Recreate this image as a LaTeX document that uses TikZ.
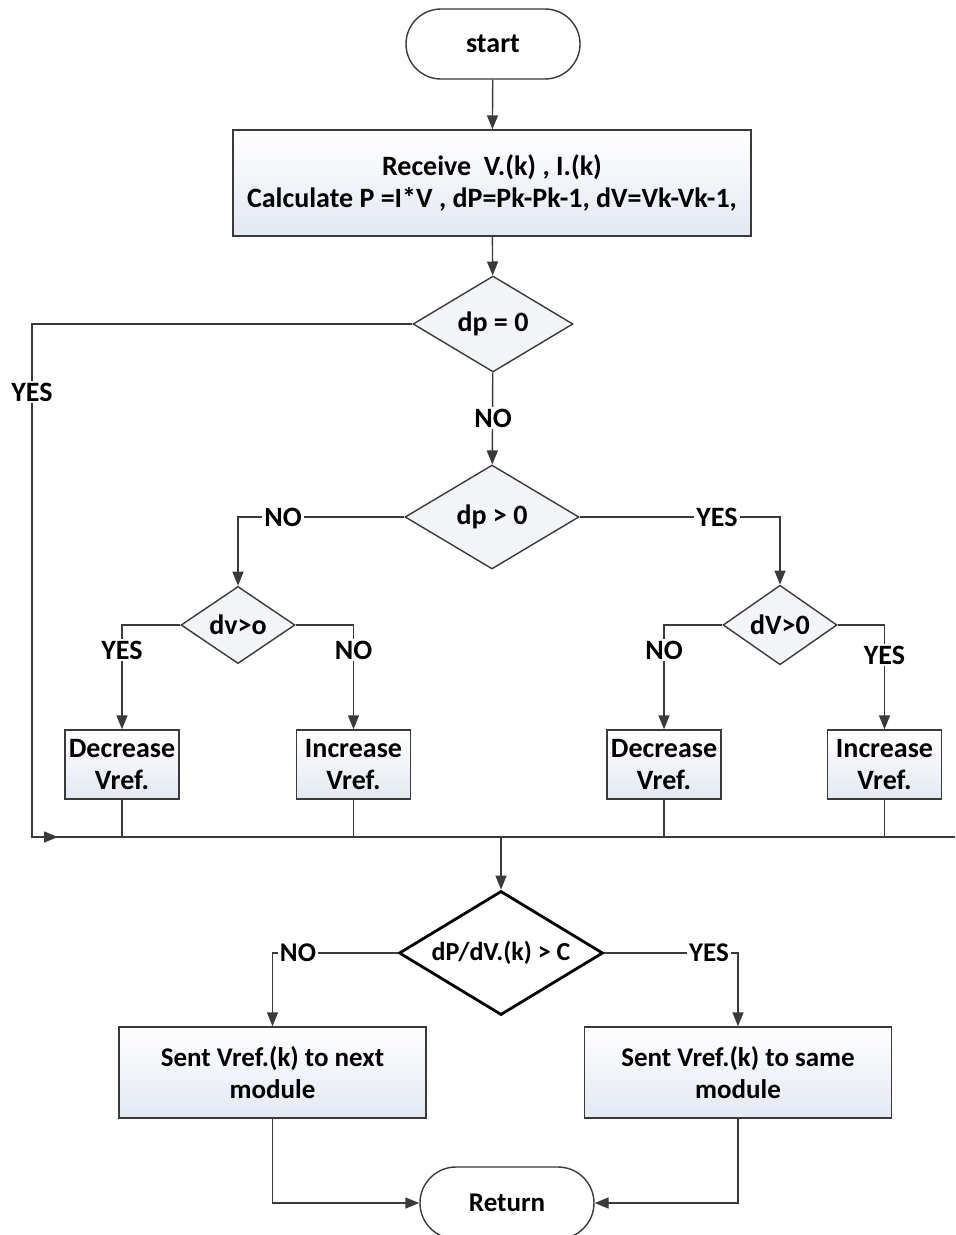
\documentclass[tikz,border=0pt]{standalone}
\usepackage{fontspec}
\setmainfont{Carlito}
\usetikzlibrary{shapes.geometric,shapes.misc,arrows.meta,positioning}
\definecolor{boxblue}{HTML}{E3E8F1}
\definecolor{diafill}{HTML}{F3F4F7}
\definecolor{linegray}{HTML}{3A3A3A}
\tikzset{
	line/.style={draw=linegray, line width=0.7pt},
	arr/.style={line, -{Triangle[length=7pt,width=5.5pt]}},
	term/.style={rounded rectangle, draw=linegray, line width=0.7pt, fill=white, minimum width=87pt, inner sep=0pt},
	proc/.style={rectangle, draw=linegray, line width=0.7pt, top color=white, bottom color=boxblue, align=center, inner sep=0pt},
	smallbox/.style={proc, minimum width=57pt, minimum height=34.5pt},
	sendbox/.style={proc, lower, minimum width=153.5pt, minimum height=45.5pt},
	test/.style={diamond, draw=linegray, line width=0.7pt, fill=diafill, inner sep=0pt},
	lbl/.style={fill=white, inner sep=1pt},
	lower/.style={font=\fontsize{13.5}{16}\selectfont\bfseries},
}
\begin{document}
\begin{tikzpicture}[x=0.5pt, y=-0.5pt, font=\fontsize{14}{16}\selectfont\bfseries]
			%%%%% START %%%%%
			\useasboundingbox (0,0) rectangle (955,1235);
			
			\node[term, minimum height=35pt] (start) at (493,44) {start};
			\node[proc, minimum width=259pt, minimum height=53pt] (read) at (492,183) {Receive\ \ V.(k) , I.(k)\\Calculate P =I*V , dP=Pk-Pk-1, dV=Vk-Vk-1,};
			
			\node[test, minimum width=80pt, minimum height=48pt] (dpz) at (493,324) {dp = 0};
			\node[test, minimum width=87pt, minimum height=52pt] (dpg) at (492,517) {dp > 0};
			\node[test, minimum width=57pt, minimum height=36pt] (dvl) at (238,625) {dv>o};
			\node[test, minimum width=57pt, minimum height=36pt] (dvr) at (780,625) {dV>0};
			
			\node[smallbox] (decl) at (122,764.5) {Decrease\\Vref.};
			\node[smallbox] (incl) at (353.5,764.5) {Increase\\Vref.};
			\node[smallbox] (decr) at (664,764.5) {Decrease\\Vref.};
			\node[smallbox] (incr) at (884.5,764.5) {Increase\\Vref.};
			
			\node[test, font=\fontsize{13}{16}\selectfont\bfseries, line width=1.4pt, draw=black, fill=white, shape aspect=1.6, minimum width=102pt, minimum height=62pt] (slope) at (501,953) {dP/dV.(k) > C};
			\node[sendbox] (sentl) at (272.5,1072.5) {Sent Vref.(k) to next\\module};
			\node[sendbox] (sents) at (738,1072.5) {Sent Vref.(k) to same\\module};
			\node[term, lower, minimum height=36pt] (ret) at (507,1203) {Return};
			
			\coordinate (cl) at (32,837);
			\coordinate (cr) at (955,837);
			\coordinate (tip) at (58,837);
			\coordinate (drop) at (501,837);
			
			\draw[arr] (start) -- (read);
			\draw[arr] (read) -- (dpz);
			\draw[arr] (dpz) -- (dpg);
			\draw[arr] (dpg.west) -| (dvl.north);
			\draw[arr] (dpg.east) -| (dvr.north);
			\draw[arr] (dvl.west) -| (decl.north);
			\draw[arr] (dvl.east) -| (incl.north);
			\draw[arr] (dvr.west) -| (decr.north);
			\draw[arr] (dvr.east) -| (incr.north);
			
			\draw[line] (dpz.west) -| (cl) -- (cr);
			\draw[arr] (cl) -- (tip);
			\foreach \b in {decl,incl,decr,incr}
				\draw[line] (\b.south) -- (\b.south |- cl);
			\draw[arr] (drop) -- (slope);
			
			\draw[arr] (slope.west) -| (sentl.north);
			\draw[arr] (slope.east) -| (sents.north);
			\draw[arr] (sentl.south) |- (ret.west);
			\draw[arr] (sents.south) |- (ret.east);
			
			\node[lbl] (yes0) at (32,392) {YES};
			\node[lbl] (no0) at (493,418) {NO};
			\node[lbl] (no1) at (283,517) {NO};
			\node[lbl] (yes1) at (717,517) {YES};
			\node[lbl] (yes2) at (122,650) {YES};
			\node[lbl] (no2) at (353.5,650) {NO};
			\node[lbl] (no3) at (664,650) {NO};
			\node[lbl] (yes3) at (884.5,655) {YES};
			\node[lbl, lower] (no4) at (298,953) {NO};
			\node[lbl, lower] (yes4) at (709,953) {YES};
			%%%%% END %%%%%
\end{tikzpicture}
\end{document}
